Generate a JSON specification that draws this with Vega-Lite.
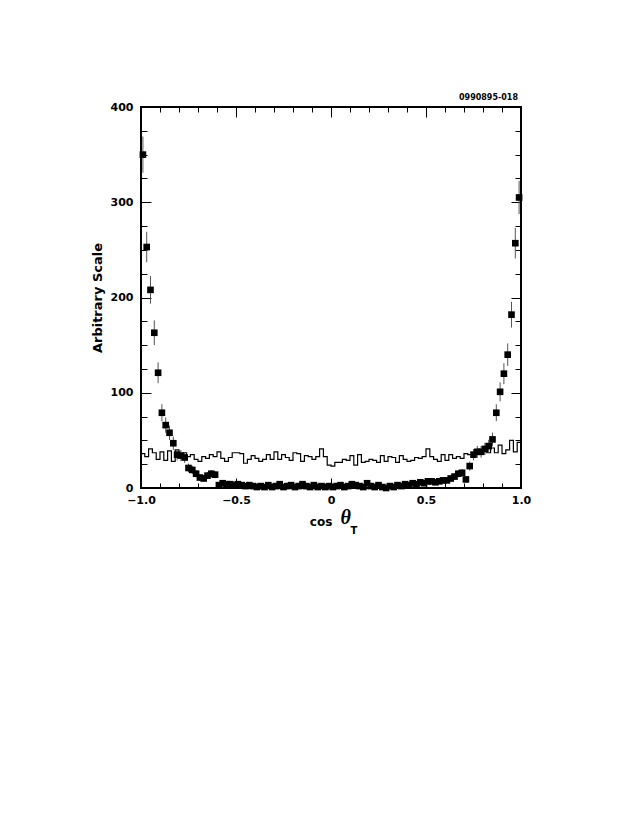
{
  "$schema": "https://vega.github.io/schema/vega-lite/v6.json",
  "width": 380,
  "height": 381,
  "autosize": "none",
  "padding": {"left": 141, "top": 107, "right": 121, "bottom": 342},
  "background": "white",
  "config": {
    "view": {"stroke": "black", "strokeWidth": 2},
    "axis": {
      "domain": false,
      "grid": false,
      "labelFont": "DejaVu Sans",
      "labelFontWeight": "bold",
      "labelFontSize": 11,
      "labelColor": "black",
      "tickColor": "black",
      "tickWidth": 1,
      "titleFont": "DejaVu Sans",
      "titleFontWeight": "bold",
      "titleFontSize": 13,
      "titleColor": "black"
    }
  },
  "title": {
    "text": "0990895-018",
    "anchor": "end",
    "frame": "group",
    "fontSize": 8,
    "font": "DejaVu Sans",
    "fontWeight": "bold",
    "color": "black",
    "offset": -1,
    "dx": -3
  },
  "datasets": {
    "pts": [
      {"x": -0.99, "v": 350, "err": 19}, {"x": -0.97, "v": 253, "err": 16}, {"x": -0.95, "v": 208, "err": 14.5}, {"x": -0.93, "v": 163, "err": 13}, {"x": -0.91, "v": 121, "err": 11},
      {"x": -0.89, "v": 79, "err": 9}, {"x": -0.87, "v": 66, "err": 8}, {"x": -0.85, "v": 58, "err": 7.6}, {"x": -0.83, "v": 47, "err": 7}, {"x": -0.81, "v": 35, "err": 6},
      {"x": -0.79, "v": 34, "err": 5.8}, {"x": -0.77, "v": 32, "err": 5.7}, {"x": -0.75, "v": 21, "err": 4.6}, {"x": -0.73, "v": 19, "err": 4.4}, {"x": -0.71, "v": 15, "err": 3.9},
      {"x": -0.69, "v": 11, "err": 3.3}, {"x": -0.67, "v": 10, "err": 3.2}, {"x": -0.65, "v": 13, "err": 3.6}, {"x": -0.63, "v": 15, "err": 3.9}, {"x": -0.61, "v": 14, "err": 3.7},
      {"x": -0.59, "v": 3, "err": 1.7}, {"x": -0.57, "v": 5, "err": 2.2}, {"x": -0.55, "v": 4, "err": 2}, {"x": -0.53, "v": 4, "err": 2}, {"x": -0.51, "v": 3, "err": 1.7},
      {"x": -0.49, "v": 4, "err": 2}, {"x": -0.47, "v": 3, "err": 1.7}, {"x": -0.45, "v": 2, "err": 1.4}, {"x": -0.43, "v": 3, "err": 1.7}, {"x": -0.41, "v": 2, "err": 1.4},
      {"x": -0.39, "v": 1, "err": 1}, {"x": -0.37, "v": 2, "err": 1.4}, {"x": -0.35, "v": 1, "err": 1}, {"x": -0.33, "v": 3, "err": 1.7}, {"x": -0.31, "v": 1, "err": 1},
      {"x": -0.29, "v": 2, "err": 1.4}, {"x": -0.27, "v": 4, "err": 2}, {"x": -0.25, "v": 1, "err": 1}, {"x": -0.23, "v": 2, "err": 1.4}, {"x": -0.21, "v": 3, "err": 1.7},
      {"x": -0.19, "v": 1, "err": 1}, {"x": -0.17, "v": 2, "err": 1.4}, {"x": -0.15, "v": 4, "err": 2}, {"x": -0.13, "v": 2, "err": 1.4}, {"x": -0.11, "v": 1, "err": 1},
      {"x": -0.09, "v": 3, "err": 1.7}, {"x": -0.07, "v": 1, "err": 1}, {"x": -0.05, "v": 2, "err": 1.4}, {"x": -0.03, "v": 1, "err": 1}, {"x": -0.01, "v": 2, "err": 1.4},
      {"x": 0.01, "v": 1, "err": 1}, {"x": 0.03, "v": 2, "err": 1.4}, {"x": 0.05, "v": 3, "err": 1.7}, {"x": 0.07, "v": 1, "err": 1}, {"x": 0.09, "v": 2, "err": 1.4},
      {"x": 0.11, "v": 4, "err": 2}, {"x": 0.13, "v": 3, "err": 1.7}, {"x": 0.15, "v": 2, "err": 1.4}, {"x": 0.17, "v": 1, "err": 1}, {"x": 0.19, "v": 5, "err": 2.2},
      {"x": 0.21, "v": 2, "err": 1.4}, {"x": 0.23, "v": 1, "err": 1}, {"x": 0.25, "v": 3, "err": 1.7}, {"x": 0.27, "v": 1, "err": 1}, {"x": 0.29, "v": 0, "err": 0},
      {"x": 0.31, "v": 2, "err": 1.4}, {"x": 0.33, "v": 1, "err": 1}, {"x": 0.35, "v": 3, "err": 1.7}, {"x": 0.37, "v": 2, "err": 1.4}, {"x": 0.39, "v": 4, "err": 2},
      {"x": 0.41, "v": 3, "err": 1.7}, {"x": 0.43, "v": 5, "err": 2.2}, {"x": 0.45, "v": 4, "err": 2}, {"x": 0.47, "v": 6, "err": 2.4}, {"x": 0.49, "v": 5, "err": 2.2},
      {"x": 0.51, "v": 7, "err": 2.6}, {"x": 0.53, "v": 7, "err": 2.6}, {"x": 0.55, "v": 6, "err": 2.4}, {"x": 0.57, "v": 7, "err": 2.6}, {"x": 0.59, "v": 8, "err": 2.8},
      {"x": 0.61, "v": 8, "err": 2.8}, {"x": 0.63, "v": 10, "err": 3.2}, {"x": 0.65, "v": 12, "err": 3.5}, {"x": 0.67, "v": 15, "err": 3.9}, {"x": 0.69, "v": 16, "err": 4},
      {"x": 0.71, "v": 9, "err": 3}, {"x": 0.73, "v": 23, "err": 4.8}, {"x": 0.75, "v": 35, "err": 5.9}, {"x": 0.77, "v": 38, "err": 6.2}, {"x": 0.79, "v": 38, "err": 6.2},
      {"x": 0.81, "v": 41, "err": 6.4}, {"x": 0.83, "v": 44, "err": 6.6}, {"x": 0.85, "v": 51, "err": 7.1}, {"x": 0.87, "v": 79, "err": 8.9}, {"x": 0.89, "v": 101, "err": 10},
      {"x": 0.91, "v": 120, "err": 11}, {"x": 0.93, "v": 140, "err": 11.8}, {"x": 0.95, "v": 182, "err": 13.5}, {"x": 0.97, "v": 257, "err": 16}, {"x": 0.99, "v": 305, "err": 17.5}
    ],
    "hist": [
      {"x": -1.0, "h": 36}, {"x": -0.98, "h": 33}, {"x": -0.96, "h": 41}, {"x": -0.94, "h": 37}, {"x": -0.92, "h": 30},
      {"x": -0.9, "h": 38}, {"x": -0.88, "h": 29}, {"x": -0.86, "h": 39}, {"x": -0.84, "h": 28}, {"x": -0.82, "h": 40},
      {"x": -0.8, "h": 34}, {"x": -0.78, "h": 37}, {"x": -0.76, "h": 33}, {"x": -0.74, "h": 35}, {"x": -0.72, "h": 30},
      {"x": -0.7, "h": 28}, {"x": -0.68, "h": 33}, {"x": -0.66, "h": 31}, {"x": -0.64, "h": 35}, {"x": -0.62, "h": 33},
      {"x": -0.6, "h": 38}, {"x": -0.58, "h": 31}, {"x": -0.56, "h": 28}, {"x": -0.54, "h": 32}, {"x": -0.52, "h": 37},
      {"x": -0.5, "h": 37}, {"x": -0.48, "h": 36}, {"x": -0.46, "h": 26}, {"x": -0.44, "h": 30}, {"x": -0.42, "h": 34},
      {"x": -0.4, "h": 31}, {"x": -0.38, "h": 28}, {"x": -0.36, "h": 30}, {"x": -0.34, "h": 35}, {"x": -0.32, "h": 30},
      {"x": -0.3, "h": 38}, {"x": -0.28, "h": 30}, {"x": -0.26, "h": 35}, {"x": -0.24, "h": 32}, {"x": -0.22, "h": 29},
      {"x": -0.2, "h": 37}, {"x": -0.18, "h": 36}, {"x": -0.16, "h": 28}, {"x": -0.14, "h": 34}, {"x": -0.12, "h": 33},
      {"x": -0.1, "h": 30}, {"x": -0.08, "h": 33}, {"x": -0.06, "h": 41}, {"x": -0.04, "h": 33}, {"x": -0.02, "h": 24},
      {"x": 0.0, "h": 23}, {"x": 0.02, "h": 27}, {"x": 0.04, "h": 27}, {"x": 0.06, "h": 30}, {"x": 0.08, "h": 29},
      {"x": 0.1, "h": 34}, {"x": 0.12, "h": 24}, {"x": 0.14, "h": 35}, {"x": 0.16, "h": 27}, {"x": 0.18, "h": 28},
      {"x": 0.2, "h": 30}, {"x": 0.22, "h": 29}, {"x": 0.24, "h": 27}, {"x": 0.26, "h": 34}, {"x": 0.28, "h": 28},
      {"x": 0.3, "h": 33}, {"x": 0.32, "h": 32}, {"x": 0.34, "h": 27}, {"x": 0.36, "h": 34}, {"x": 0.38, "h": 30},
      {"x": 0.4, "h": 28}, {"x": 0.42, "h": 29}, {"x": 0.44, "h": 32}, {"x": 0.46, "h": 31}, {"x": 0.48, "h": 33},
      {"x": 0.5, "h": 41}, {"x": 0.52, "h": 33}, {"x": 0.54, "h": 30}, {"x": 0.56, "h": 28}, {"x": 0.58, "h": 35},
      {"x": 0.6, "h": 29}, {"x": 0.62, "h": 35}, {"x": 0.64, "h": 31}, {"x": 0.66, "h": 33}, {"x": 0.68, "h": 31},
      {"x": 0.7, "h": 36}, {"x": 0.72, "h": 35}, {"x": 0.74, "h": 36}, {"x": 0.76, "h": 40}, {"x": 0.78, "h": 36},
      {"x": 0.8, "h": 41}, {"x": 0.82, "h": 37}, {"x": 0.84, "h": 42}, {"x": 0.86, "h": 37}, {"x": 0.88, "h": 45},
      {"x": 0.9, "h": 36}, {"x": 0.92, "h": 40}, {"x": 0.94, "h": 50}, {"x": 0.96, "h": 38}, {"x": 0.98, "h": 48},
      {"x": 1.0, "h": 48}
    ],
    "labels": [
      {"x": -0.052, "y": -36, "t": "cos", "part": "cos"},
      {"x": 0.077, "y": -32, "t": "θ", "part": "theta"},
      {"x": 0.121, "y": -45, "t": "T", "part": "sub"}
    ]
  },
  "layer": [
    {
      "data": {"name": "hist"},
      "mark": {"type": "line", "interpolate": "step-after", "color": "black", "strokeWidth": 1.2},
      "encoding": {
        "x": {
          "field": "x", "type": "quantitative",
          "scale": {"domain": [-1, 1], "nice": false, "zero": false},
          "axis": {
            "orient": "bottom", "title": null,
            "values": [-1, -0.9, -0.8, -0.7, -0.6, -0.5, -0.4, -0.3, -0.2, -0.1, 0, 0.1, 0.2, 0.3, 0.4, 0.5, 0.6, 0.7, 0.8, 0.9, 1],
            "tickSize": {"expr": "abs(datum.value*2 - round(datum.value*2)) < 0.000001 ? -10 : -5"},
            "labelExpr": "abs(datum.value*2 - round(datum.value*2)) < 0.000001 ? (datum.value == 0 ? '0' : format(datum.value, '.1f')) : ''",
            "labelPadding": 16,
            "labelFlush": false
          }
        },
        "y": {
          "field": "h", "type": "quantitative",
          "scale": {"domain": [0, 400], "nice": false, "zero": false},
          "axis": {
            "orient": "left", "title": "Arbitrary Scale",
            "values": [0, 25, 50, 75, 100, 125, 150, 175, 200, 225, 250, 275, 300, 325, 350, 375, 400],
            "tickSize": {"expr": "datum.value % 100 == 0 ? -10 : -6"},
            "labelExpr": "datum.value % 100 == 0 ? datum.label : ''",
            "labelPadding": 18,
            "titlePadding": 6
          }
        }
      }
    },
    {
      "data": {"name": "pts"},
      "mark": {"type": "errorbar", "ticks": false, "color": "#555555", "thickness": 1},
      "encoding": {
        "x": {"field": "x", "type": "quantitative", "scale": {"domain": [-1, 1], "nice": false, "zero": false}, "axis": null},
        "y": {"field": "v", "type": "quantitative", "scale": {"domain": [0, 400], "nice": false, "zero": false}, "axis": null},
        "yError": {"field": "err"}
      }
    },
    {
      "data": {"name": "pts"},
      "mark": {"type": "square", "filled": true, "color": "black", "size": 44, "opacity": 1},
      "encoding": {
        "x": {
          "field": "x", "type": "quantitative",
          "scale": {"domain": [-1, 1], "nice": false, "zero": false},
          "axis": {
            "orient": "top", "title": null, "labels": false,
            "values": [-1, -0.9, -0.8, -0.7, -0.6, -0.5, -0.4, -0.3, -0.2, -0.1, 0, 0.1, 0.2, 0.3, 0.4, 0.5, 0.6, 0.7, 0.8, 0.9, 1],
            "tickSize": {"expr": "abs(datum.value*2 - round(datum.value*2)) < 0.000001 ? -10 : -5"}
          }
        },
        "y": {
          "field": "v", "type": "quantitative",
          "scale": {"domain": [0, 400], "nice": false, "zero": false},
          "axis": {
            "orient": "right", "title": null, "labels": false,
            "values": [0, 25, 50, 75, 100, 125, 150, 175, 200, 225, 250, 275, 300, 325, 350, 375, 400],
            "tickSize": {"expr": "datum.value % 100 == 0 ? -10 : -6"}
          }
        }
      }
    },
    {
      "data": {"name": "labels"},
      "transform": [{"filter": "datum.part == 'cos'"}],
      "mark": {"type": "text", "font": "DejaVu Sans", "fontWeight": "bold", "fontSize": 12, "color": "black", "baseline": "middle", "align": "center"},
      "encoding": {
        "x": {"field": "x", "type": "quantitative", "scale": {"domain": [-1, 1], "nice": false, "zero": false}, "axis": null},
        "y": {"field": "y", "type": "quantitative", "scale": {"domain": [0, 400], "nice": false, "zero": false}, "axis": null},
        "text": {"field": "t"}
      }
    },
    {
      "data": {"name": "labels"},
      "transform": [{"filter": "datum.part == 'theta'"}],
      "mark": {"type": "text", "font": "Liberation Serif", "fontStyle": "italic", "fontWeight": "bold", "fontSize": 20, "color": "black", "baseline": "middle", "align": "center"},
      "encoding": {
        "x": {"field": "x", "type": "quantitative", "scale": {"domain": [-1, 1], "nice": false, "zero": false}, "axis": null},
        "y": {"field": "y", "type": "quantitative", "scale": {"domain": [0, 400], "nice": false, "zero": false}, "axis": null},
        "text": {"field": "t"}
      }
    },
    {
      "data": {"name": "labels"},
      "transform": [{"filter": "datum.part == 'sub'"}],
      "mark": {"type": "text", "font": "DejaVu Sans", "fontWeight": "bold", "fontSize": 10, "color": "black", "baseline": "middle", "align": "center"},
      "encoding": {
        "x": {"field": "x", "type": "quantitative", "scale": {"domain": [-1, 1], "nice": false, "zero": false}, "axis": null},
        "y": {"field": "y", "type": "quantitative", "scale": {"domain": [0, 400], "nice": false, "zero": false}, "axis": null},
        "text": {"field": "t"}
      }
    }
  ],
  "resolve": {"axis": {"x": "independent", "y": "independent"}}
}
